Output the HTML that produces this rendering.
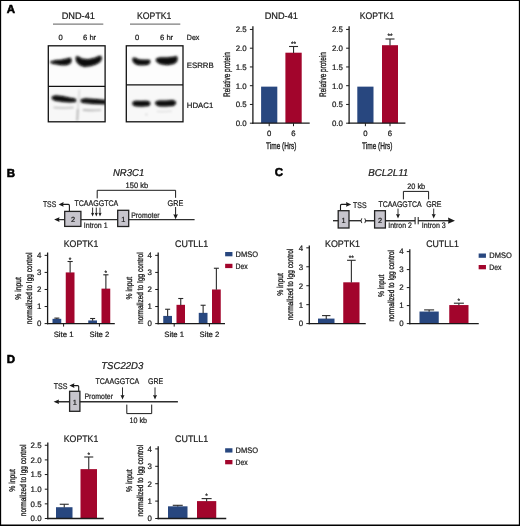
<!DOCTYPE html>
<html><head><meta charset="utf-8"><title>Figure</title>
<style>
html,body{margin:0;padding:0;background:#fff;}
body{width:520px;height:526px;overflow:hidden;font-family:"Liberation Sans",sans-serif;}
svg{display:block;will-change:transform;transform:translateZ(0);}
svg text{font-family:"Liberation Sans",sans-serif;fill:#1a1a1a;stroke:#1a1a1a;stroke-width:0.22px;text-rendering:geometricPrecision;}
</style></head><body>
<svg width="520" height="526" viewBox="0 0 520 526">
<defs>
<filter id="b1" x="-5%" y="-5%" width="110%" height="110%"><feGaussianBlur stdDeviation="0.3"/></filter>
<filter id="b2" x="-20%" y="-50%" width="140%" height="200%"><feGaussianBlur stdDeviation="0.85"/></filter>
<filter id="b3" x="-30%" y="-80%" width="160%" height="260%"><feGaussianBlur stdDeviation="1.7"/></filter>
<clipPath id="cb1"><rect x="48.3" y="45.8" width="56.8" height="76"/></clipPath>
<clipPath id="cb2"><rect x="126.3" y="45.8" width="56.7" height="76"/></clipPath>
</defs>
<rect x="0" y="0" width="520" height="526" fill="#fff"/>
<text x="6.7" y="12.8" font-size="11.5" font-weight="bold" style="fill:#000;stroke:#000;stroke-width:0.55px">A</text>
<text font-size="9.5" text-anchor="middle" transform="translate(78.3 18.9) scale(0.9705 1)">DND-41</text>
<line x1="53" y1="24.2" x2="103.3" y2="24.2" stroke="#7d7d7d" stroke-width="1.2" />
<text font-size="9.5" text-anchor="middle" transform="translate(154.2 19.1) scale(0.915 1)">KOPTK1</text>
<line x1="130" y1="24.2" x2="180.3" y2="24.2" stroke="#7d7d7d" stroke-width="1.2" />
<text x="60.6" y="40.2" font-size="7.6" text-anchor="middle">0</text>
<text x="89.6" y="40.2" font-size="7.6" text-anchor="middle">6 hr</text>
<text x="137" y="40.2" font-size="7.6" text-anchor="middle">0</text>
<text x="166.6" y="40.2" font-size="7.6" text-anchor="middle">6 hr</text>
<text font-size="7.6" transform="translate(186.8 40.3) scale(0.9323 1)">Dex</text>
<text x="186.8" y="67.6" font-size="7.8">ESRRB</text>
<text x="186.8" y="108.2" font-size="7.8">HDAC1</text>
<rect x="48.3" y="45.7" width="56.8" height="41" fill="#fcfcfc" />
<rect x="48.3" y="86.4" width="56.8" height="35.4" fill="#f7f7f7" />
<rect x="126.3" y="45.7" width="56.7" height="39.4" fill="#fdfdfd" />
<rect x="126.3" y="84.9" width="56.7" height="36.9" fill="#f8f8f8" />
<g clip-path="url(#cb1)">
<g filter="url(#b3)" opacity="0.5">
<polygon points="50.53,62.12 55.54,60.81 61.49,60.33 66.86,59.14 70.43,58.3 71.03,60.69 70.08,63.07 66.26,64.62 61.49,64.62 56.73,63.79 52.56,63.07" fill="#222" stroke="#222" stroke-width="1.2" stroke-linejoin="round"/>
<polygon points="76.51,56.87 78.18,57.11 81.76,59.14 87.72,59.97 94.87,58.42 99.64,56.4 101.07,56.87 101.07,58.9 99.87,61.4 96.06,63.79 90.1,65.57 84.14,66.17 79.97,64.62 77.23,62.0 76.27,58.9" fill="#222" stroke="#222" stroke-width="1.2" stroke-linejoin="round"/>
<polygon points="52.32,97.02 55.54,95.95 62.69,96.78 69.84,98.33 75.32,99.28 75.56,101.31 69.84,101.79 62.69,101.19 55.54,100.24 52.44,98.81" fill="#222" stroke="#222" stroke-width="1.2" stroke-linejoin="round"/>
<polygon points="81.04,100.0 85.33,98.92 93.68,99.52 105.59,100.59 105.59,103.69 93.68,103.33 85.33,102.62 81.4,101.79" fill="#222" stroke="#222" stroke-width="1.2" stroke-linejoin="round"/>
</g>
<g filter="url(#b2)" fill="none">
<path d="M53.6 107.5 C60 108 67 108 73.6 107.5" stroke="#bdbdbd" stroke-width="1.5" fill="none" />
<path d="M82.8 109.9 C90 110.6 95 110.6 101 110" stroke="#b8b8b8" stroke-width="1.6" fill="none" />
<path d="M79.4 89.5 C79 97 78.3 104 77.8 110" stroke="#d9d9d9" stroke-width="1.6" fill="none" />
<path d="M77.8 109 C77.6 114 77.4 118 77.2 120.8" stroke="#b0b0b0" stroke-width="1.7" fill="none" />
</g>
<g filter="url(#b2)">
<polygon points="50.53,62.12 55.54,60.81 61.49,60.33 66.86,59.14 70.43,58.3 71.03,60.69 70.08,63.07 66.26,64.62 61.49,64.62 56.73,63.79 52.56,63.07" fill="#0a0a0a" stroke="#0a0a0a" stroke-width="0.85" stroke-linejoin="round"/>
<polygon points="76.51,56.87 78.18,57.11 81.76,59.14 87.72,59.97 94.87,58.42 99.64,56.4 101.07,56.87 101.07,58.9 99.87,61.4 96.06,63.79 90.1,65.57 84.14,66.17 79.97,64.62 77.23,62.0 76.27,58.9" fill="#0a0a0a" stroke="#0a0a0a" stroke-width="0.85" stroke-linejoin="round"/>
<polygon points="52.32,97.02 55.54,95.95 62.69,96.78 69.84,98.33 75.32,99.28 75.56,101.31 69.84,101.79 62.69,101.19 55.54,100.24 52.44,98.81" fill="#0a0a0a" stroke="#0a0a0a" stroke-width="0.85" stroke-linejoin="round"/>
<polygon points="81.04,100.0 85.33,98.92 93.68,99.52 105.59,100.59 105.59,103.69 93.68,103.33 85.33,102.62 81.4,101.79" fill="#0a0a0a" stroke="#0a0a0a" stroke-width="0.85" stroke-linejoin="round"/>
</g>
</g>
<g clip-path="url(#cb2)">
<g filter="url(#b3)" opacity="0.5">
<polygon points="133.3,58.18 135.32,58.42 138.9,60.09 144.26,60.33 149.39,60.33 149.86,61.88 148.55,63.9 144.26,64.62 139.49,64.62 135.92,63.79 133.77,62.0 132.94,59.73" fill="#222" stroke="#222" stroke-width="1.2" stroke-linejoin="round"/>
<polygon points="156.66,59.02 159.76,58.06 168.1,58.06 173.46,57.35 176.56,56.75 177.04,58.9 176.32,61.4 173.46,63.43 167.5,64.38 160.95,63.67 157.61,62.0 156.3,60.21" fill="#222" stroke="#222" stroke-width="1.2" stroke-linejoin="round"/>
<polygon points="132.94,102.5 135.32,101.43 140.69,101.55 146.65,101.43 149.39,102.26 149.86,103.93 148.43,105.48 141.88,105.96 135.92,105.72 133.18,104.65" fill="#222" stroke="#222" stroke-width="1.2" stroke-linejoin="round"/>
<polygon points="155.82,102.26 158.56,101.19 165.72,101.19 172.87,100.71 175.13,101.67 175.37,103.45 173.58,105.24 165.72,105.84 159.16,105.72 156.06,104.17" fill="#222" stroke="#222" stroke-width="1.2" stroke-linejoin="round"/>
</g>
<g filter="url(#b2)" fill="none">
<path d="M156.8 111.3 C162 111.7 167 111.7 171.8 111.2" stroke="#dcdcdc" stroke-width="1.2" fill="none" />
<circle cx="146.4" cy="114.5" r="0.9" fill="#cccccc"/>
</g>
<g filter="url(#b2)">
<polygon points="133.3,58.18 135.32,58.42 138.9,60.09 144.26,60.33 149.39,60.33 149.86,61.88 148.55,63.9 144.26,64.62 139.49,64.62 135.92,63.79 133.77,62.0 132.94,59.73" fill="#0a0a0a" stroke="#0a0a0a" stroke-width="0.85" stroke-linejoin="round"/>
<polygon points="156.66,59.02 159.76,58.06 168.1,58.06 173.46,57.35 176.56,56.75 177.04,58.9 176.32,61.4 173.46,63.43 167.5,64.38 160.95,63.67 157.61,62.0 156.3,60.21" fill="#0a0a0a" stroke="#0a0a0a" stroke-width="0.85" stroke-linejoin="round"/>
<polygon points="132.94,102.5 135.32,101.43 140.69,101.55 146.65,101.43 149.39,102.26 149.86,103.93 148.43,105.48 141.88,105.96 135.92,105.72 133.18,104.65" fill="#0a0a0a" stroke="#0a0a0a" stroke-width="0.85" stroke-linejoin="round"/>
<polygon points="155.82,102.26 158.56,101.19 165.72,101.19 172.87,100.71 175.13,101.67 175.37,103.45 173.58,105.24 165.72,105.84 159.16,105.72 156.06,104.17" fill="#0a0a0a" stroke="#0a0a0a" stroke-width="0.85" stroke-linejoin="round"/>
</g>
</g>
<rect x="48.3" y="45.8" width="56.8" height="76" fill="none" stroke="#111" stroke-width="1.3" />
<line x1="48.3" y1="86.4" x2="105.1" y2="86.4" stroke="#111" stroke-width="1.3" />
<rect x="126.3" y="45.8" width="56.7" height="76" fill="none" stroke="#111" stroke-width="1.3" />
<line x1="126.3" y1="84.9" x2="183" y2="84.9" stroke="#111" stroke-width="1.3" />
<text font-size="9.5" text-anchor="middle" transform="translate(281.3 18.9) scale(0.9705 1)">DND-41</text>
<rect x="261.1" y="86.64" width="16.2" height="36.56" fill="#28477f" />
<rect x="285.4" y="52.7" width="16.3" height="70.5" fill="#a2052c" />
<line x1="293.54999999999995" y1="53.0" x2="293.54999999999995" y2="46.5" stroke="#2a2a2a" stroke-width="1.1" />
<line x1="289.05" y1="46.5" x2="298.05" y2="46.5" stroke="#2a2a2a" stroke-width="1.1" />
<text x="293.55" y="45.6" font-size="6.6" text-anchor="middle">**</text>
<line x1="252.9" y1="26.3" x2="252.9" y2="123.85000000000001" stroke="#1a1a1a" stroke-width="1.3" />
<line x1="252.25" y1="123.2" x2="309.7" y2="123.2" stroke="#1a1a1a" stroke-width="1.3" />
<line x1="249.9" y1="123.2" x2="252.9" y2="123.2" stroke="#1a1a1a" stroke-width="1" />
<text x="246.70000000000002" y="126.04" font-size="7.9" text-anchor="end">0.0</text>
<line x1="249.9" y1="104.45" x2="252.9" y2="104.45" stroke="#1a1a1a" stroke-width="1" />
<text x="246.70000000000002" y="107.29" font-size="7.9" text-anchor="end">0.5</text>
<line x1="249.9" y1="85.7" x2="252.9" y2="85.7" stroke="#1a1a1a" stroke-width="1" />
<text x="246.70000000000002" y="88.54" font-size="7.9" text-anchor="end">1.0</text>
<line x1="249.9" y1="66.95" x2="252.9" y2="66.95" stroke="#1a1a1a" stroke-width="1" />
<text x="246.70000000000002" y="69.79" font-size="7.9" text-anchor="end">1.5</text>
<line x1="249.9" y1="48.2" x2="252.9" y2="48.2" stroke="#1a1a1a" stroke-width="1" />
<text x="246.70000000000002" y="51.04" font-size="7.9" text-anchor="end">2.0</text>
<line x1="249.9" y1="29.45" x2="252.9" y2="29.45" stroke="#1a1a1a" stroke-width="1" />
<text x="246.70000000000002" y="32.29" font-size="7.9" text-anchor="end">2.5</text>
<line x1="269.2" y1="123.2" x2="269.2" y2="126.2" stroke="#1a1a1a" stroke-width="1" />
<text x="269.2" y="136.4" font-size="7.75" text-anchor="middle">0</text>
<line x1="293.5" y1="123.2" x2="293.5" y2="126.2" stroke="#1a1a1a" stroke-width="1" />
<text x="293.5" y="136.4" font-size="7.75" text-anchor="middle">6</text>
<text font-size="9.5" text-anchor="middle" style="stroke-width:0.32px" transform="translate(281.3 149.2) scale(0.6832 1)">Time (Hrs)</text>
<text font-size="9.5" text-anchor="middle" style="stroke-width:0.32px" transform="translate(230.4 74.6) rotate(-90) scale(0.6757 1)">Relative protein</text>
<text font-size="9.5" text-anchor="middle" transform="translate(376.9 18.9) scale(0.9124 1)">KOPTK1</text>
<rect x="357.3" y="86.64" width="16.2" height="36.56" fill="#28477f" />
<rect x="382" y="45.2" width="16" height="78.0" fill="#a2052c" />
<line x1="390.0" y1="45.5" x2="390.0" y2="39" stroke="#2a2a2a" stroke-width="1.1" />
<line x1="385.5" y1="39" x2="394.5" y2="39" stroke="#2a2a2a" stroke-width="1.1" />
<text x="390.0" y="38.4" font-size="6.6" text-anchor="middle">**</text>
<line x1="349.1" y1="26.3" x2="349.1" y2="123.85000000000001" stroke="#1a1a1a" stroke-width="1.3" />
<line x1="348.45000000000005" y1="123.2" x2="405.4" y2="123.2" stroke="#1a1a1a" stroke-width="1.3" />
<line x1="346.1" y1="123.2" x2="349.1" y2="123.2" stroke="#1a1a1a" stroke-width="1" />
<text x="342.90000000000003" y="126.04" font-size="7.9" text-anchor="end">0.0</text>
<line x1="346.1" y1="104.45" x2="349.1" y2="104.45" stroke="#1a1a1a" stroke-width="1" />
<text x="342.90000000000003" y="107.29" font-size="7.9" text-anchor="end">0.5</text>
<line x1="346.1" y1="85.7" x2="349.1" y2="85.7" stroke="#1a1a1a" stroke-width="1" />
<text x="342.90000000000003" y="88.54" font-size="7.9" text-anchor="end">1.0</text>
<line x1="346.1" y1="66.95" x2="349.1" y2="66.95" stroke="#1a1a1a" stroke-width="1" />
<text x="342.90000000000003" y="69.79" font-size="7.9" text-anchor="end">1.5</text>
<line x1="346.1" y1="48.2" x2="349.1" y2="48.2" stroke="#1a1a1a" stroke-width="1" />
<text x="342.90000000000003" y="51.04" font-size="7.9" text-anchor="end">2.0</text>
<line x1="346.1" y1="29.45" x2="349.1" y2="29.45" stroke="#1a1a1a" stroke-width="1" />
<text x="342.90000000000003" y="32.29" font-size="7.9" text-anchor="end">2.5</text>
<line x1="365.4" y1="123.2" x2="365.4" y2="126.2" stroke="#1a1a1a" stroke-width="1" />
<text x="365.4" y="136.4" font-size="7.75" text-anchor="middle">0</text>
<line x1="390" y1="123.2" x2="390" y2="126.2" stroke="#1a1a1a" stroke-width="1" />
<text x="390" y="136.4" font-size="7.75" text-anchor="middle">6</text>
<text font-size="9.5" text-anchor="middle" style="stroke-width:0.32px" transform="translate(377.3 149.2) scale(0.6832 1)">Time (Hrs)</text>
<text font-size="9.5" text-anchor="middle" style="stroke-width:0.32px" transform="translate(326.4 74.6) rotate(-90) scale(0.6757 1)">Relative protein</text>
<text x="6.7" y="176.6" font-size="11.5" font-weight="bold" style="fill:#000;stroke:#000;stroke-width:0.55px">B</text>
<text font-size="10" text-anchor="middle" font-style="italic" transform="translate(128.6 176.4) scale(0.9516 1)">NR3C1</text>
<text font-size="7.9" text-anchor="middle" transform="translate(136.8 187.7) scale(0.9486 1)">150 kb</text>
<path d="M97.2 198.4 V190.3 H175.6 V197.8" stroke="#1a1a1a" stroke-width="1.0" fill="none" />
<text font-size="8.2" transform="translate(74.5 205.8) scale(0.8574 1)">TCAAGGTCA</text>
<text font-size="8.2" transform="translate(167.5 205.8) scale(0.8864 1)">GRE</text>
<text font-size="8.2" transform="translate(42.9 207.1) scale(0.834 1)">TSS</text>
<line x1="58" y1="219.6" x2="194.6" y2="219.6" stroke="#2e2e2e" stroke-width="1.4" />
<polygon points="54.1,219.6 59.5,217.29999999999998 59.0,219.6 59.5,221.9" fill="#1a1a1a"/>
<path d="M69.4 211.5 V205.4 Q69.4 204.4 68.4 204.4 H62" stroke="#1a1a1a" stroke-width="1.1" fill="none" />
<polygon points="58.6,204.4 63.6,202.1 63.1,204.4 63.6,206.70000000000002" fill="#1a1a1a"/>
<rect x="64.7" y="211.4" width="16.2" height="15" fill="#c7c5cd" stroke="#222" stroke-width="1.3" />
<text x="73.1" y="221.8" font-size="7.4" text-anchor="middle">2</text>
<rect x="117.7" y="210.3" width="11" height="16.2" fill="#c7c5cd" stroke="#222" stroke-width="1.3" />
<text x="123.2" y="221.8" font-size="7.4" text-anchor="middle">1</text>
<line x1="92.6" y1="207.6" x2="92.6" y2="214" stroke="#1a1a1a" stroke-width="0.9" />
<polygon points="92.6,216.5 91.0,212.7 92.6,213.2 94.19999999999999,212.7" fill="#1a1a1a"/>
<line x1="96.3" y1="207.6" x2="96.3" y2="214" stroke="#1a1a1a" stroke-width="0.9" />
<polygon points="96.3,216.5 94.7,212.7 96.3,213.2 97.89999999999999,212.7" fill="#1a1a1a"/>
<line x1="100" y1="207.6" x2="100" y2="214" stroke="#1a1a1a" stroke-width="0.9" />
<polygon points="100,216.5 98.4,212.7 100,213.2 101.6,212.7" fill="#1a1a1a"/>
<text font-size="8" transform="translate(83.8 227.6) scale(0.8754 1)">Intron 1</text>
<text font-size="8" transform="translate(131.2 217.6) scale(0.8602 1)">Promoter</text>
<line x1="175.6" y1="207" x2="175.6" y2="216" stroke="#1a1a1a" stroke-width="1.0" />
<polygon points="175.6,219.3 173.29999999999998,214.3 175.6,214.8 177.9,214.3" fill="#1a1a1a"/>
<text font-size="9.5" text-anchor="middle" transform="translate(81 246.8) scale(0.9204 1)">KOPTK1</text>
<rect x="52.5" y="318.82" width="8.75" height="4.78" fill="#28477f" />
<line x1="56.875" y1="319.12320000000005" x2="56.875" y2="318.1" stroke="#2a2a2a" stroke-width="1.1" />
<line x1="54.38" y1="318.1" x2="59.38" y2="318.1" stroke="#2a2a2a" stroke-width="1.1" />
<rect x="65.75" y="272.42" width="8.75" height="51.18" fill="#a2052c" />
<line x1="70.125" y1="272.72" x2="70.125" y2="261.5" stroke="#2a2a2a" stroke-width="1.1" />
<line x1="67.53" y1="261.5" x2="72.72" y2="261.5" stroke="#2a2a2a" stroke-width="1.1" />
<text x="70.12" y="261.6" font-size="6.6" text-anchor="middle">*</text>
<rect x="88.25" y="320.44" width="8.75" height="3.16" fill="#28477f" />
<line x1="92.625" y1="320.74390000000005" x2="92.625" y2="318.5" stroke="#2a2a2a" stroke-width="1.1" />
<line x1="90.12" y1="318.5" x2="95.12" y2="318.5" stroke="#2a2a2a" stroke-width="1.1" />
<rect x="101.5" y="288.63" width="8.75" height="34.97" fill="#a2052c" />
<line x1="105.875" y1="288.927" x2="105.875" y2="274.8" stroke="#2a2a2a" stroke-width="1.1" />
<line x1="103.28" y1="274.8" x2="108.47" y2="274.8" stroke="#2a2a2a" stroke-width="1.1" />
<text x="105.88" y="275" font-size="6.6" text-anchor="middle">*</text>
<line x1="47.6" y1="252.5" x2="47.6" y2="324.25" stroke="#1a1a1a" stroke-width="1.3" />
<line x1="46.95" y1="323.6" x2="114.8" y2="323.6" stroke="#1a1a1a" stroke-width="1.3" />
<line x1="44.6" y1="323.6" x2="47.6" y2="323.6" stroke="#1a1a1a" stroke-width="1" />
<text x="41.4" y="326.44" font-size="7.9" text-anchor="end">0</text>
<line x1="44.6" y1="306.54" x2="47.6" y2="306.54" stroke="#1a1a1a" stroke-width="1" />
<text x="41.4" y="309.38" font-size="7.9" text-anchor="end">1</text>
<line x1="44.6" y1="289.48" x2="47.6" y2="289.48" stroke="#1a1a1a" stroke-width="1" />
<text x="41.4" y="292.32" font-size="7.9" text-anchor="end">2</text>
<line x1="44.6" y1="272.42" x2="47.6" y2="272.42" stroke="#1a1a1a" stroke-width="1" />
<text x="41.4" y="275.26" font-size="7.9" text-anchor="end">3</text>
<line x1="44.6" y1="255.36" x2="47.6" y2="255.36" stroke="#1a1a1a" stroke-width="1" />
<text x="41.4" y="258.2" font-size="7.9" text-anchor="end">4</text>
<line x1="63.6" y1="323.6" x2="63.6" y2="326.6" stroke="#1a1a1a" stroke-width="1" />
<text x="63.6" y="336.5" font-size="7.75" text-anchor="middle">Site 1</text>
<line x1="99.4" y1="323.6" x2="99.4" y2="326.6" stroke="#1a1a1a" stroke-width="1" />
<text x="99.4" y="336.5" font-size="7.75" text-anchor="middle">Site 2</text>
<text font-size="8.5" text-anchor="middle" style="stroke-width:0.32px" transform="translate(21.4 288.4) rotate(-90) scale(0.7971 1)">% input</text>
<text font-size="8.5" text-anchor="middle" style="stroke-width:0.32px" transform="translate(31.7 288.4) rotate(-90) scale(0.7693 1)">normalized to Igg control</text>
<text font-size="9.5" text-anchor="middle" transform="translate(191.6 246.8) scale(0.9385 1)">CUTLL1</text>
<rect x="163.25" y="315.92" width="8.75" height="7.68" fill="#28477f" />
<line x1="167.625" y1="316.223" x2="167.625" y2="309.25" stroke="#2a2a2a" stroke-width="1.1" />
<line x1="165.12" y1="309.25" x2="170.12" y2="309.25" stroke="#2a2a2a" stroke-width="1.1" />
<rect x="176.5" y="304.83" width="8.5" height="18.77" fill="#a2052c" />
<line x1="180.75" y1="305.134" x2="180.75" y2="298.5" stroke="#2a2a2a" stroke-width="1.1" />
<line x1="178.25" y1="298.5" x2="183.25" y2="298.5" stroke="#2a2a2a" stroke-width="1.1" />
<rect x="198.75" y="312.85" width="8.75" height="10.75" fill="#28477f" />
<line x1="203.125" y1="313.15220000000005" x2="203.125" y2="305.25" stroke="#2a2a2a" stroke-width="1.1" />
<line x1="200.62" y1="305.25" x2="205.62" y2="305.25" stroke="#2a2a2a" stroke-width="1.1" />
<rect x="212" y="289.48" width="8.75" height="34.12" fill="#a2052c" />
<line x1="216.375" y1="289.78000000000003" x2="216.375" y2="268.25" stroke="#2a2a2a" stroke-width="1.1" />
<line x1="213.88" y1="268.25" x2="218.88" y2="268.25" stroke="#2a2a2a" stroke-width="1.1" />
<line x1="158.2" y1="252.5" x2="158.2" y2="324.25" stroke="#1a1a1a" stroke-width="1.3" />
<line x1="157.54999999999998" y1="323.6" x2="225" y2="323.6" stroke="#1a1a1a" stroke-width="1.3" />
<line x1="155.2" y1="323.6" x2="158.2" y2="323.6" stroke="#1a1a1a" stroke-width="1" />
<text x="152.0" y="326.44" font-size="7.9" text-anchor="end">0</text>
<line x1="155.2" y1="306.54" x2="158.2" y2="306.54" stroke="#1a1a1a" stroke-width="1" />
<text x="152.0" y="309.38" font-size="7.9" text-anchor="end">1</text>
<line x1="155.2" y1="289.48" x2="158.2" y2="289.48" stroke="#1a1a1a" stroke-width="1" />
<text x="152.0" y="292.32" font-size="7.9" text-anchor="end">2</text>
<line x1="155.2" y1="272.42" x2="158.2" y2="272.42" stroke="#1a1a1a" stroke-width="1" />
<text x="152.0" y="275.26" font-size="7.9" text-anchor="end">3</text>
<line x1="155.2" y1="255.36" x2="158.2" y2="255.36" stroke="#1a1a1a" stroke-width="1" />
<text x="152.0" y="258.2" font-size="7.9" text-anchor="end">4</text>
<line x1="174.2" y1="323.6" x2="174.2" y2="326.6" stroke="#1a1a1a" stroke-width="1" />
<text x="174.2" y="336.5" font-size="7.75" text-anchor="middle">Site 1</text>
<line x1="209.4" y1="323.6" x2="209.4" y2="326.6" stroke="#1a1a1a" stroke-width="1" />
<text x="209.4" y="336.5" font-size="7.75" text-anchor="middle">Site 2</text>
<text font-size="8.5" text-anchor="middle" style="stroke-width:0.32px" transform="translate(132.3 288.2) rotate(-90) scale(0.7971 1)">% input</text>
<text font-size="8.5" text-anchor="middle" style="stroke-width:0.32px" transform="translate(142.7 288.2) rotate(-90) scale(0.7693 1)">normalized to Igg control</text>
<rect x="225.15" y="252.0" width="7.3" height="4.3" fill="#28477f" />
<text font-size="8" transform="translate(235.5 256.9) scale(0.9375 1)">DMSO</text>
<rect x="225.15" y="263.8" width="7.3" height="4.3" fill="#a2052c" />
<text font-size="8" transform="translate(235.5 268.7) scale(0.8575 1)">Dex</text>
<text x="274.8" y="176.4" font-size="11.5" font-weight="bold" style="fill:#000;stroke:#000;stroke-width:0.55px">C</text>
<text font-size="10" text-anchor="middle" font-style="italic" transform="translate(388.3 176.4) scale(0.9766 1)">BCL2L11</text>
<text font-size="7.9" text-anchor="middle" transform="translate(416.2 189.2) scale(0.9314 1)">20 kb</text>
<path d="M403.4 199.4 V191.4 H428.6 V199.4" stroke="#1a1a1a" stroke-width="1.0" fill="none" />
<text font-size="8.2" transform="translate(378.4 207) scale(0.8476 1)">TCAAGGTCA</text>
<text font-size="8.2" transform="translate(426.2 207) scale(0.8554 1)">GRE</text>
<text font-size="8.2" transform="translate(353.1 207.5) scale(0.8528 1)">TSS</text>
<line x1="333" y1="220.7" x2="361.2" y2="220.7" stroke="#2e2e2e" stroke-width="1.4" />
<line x1="365.3" y1="220.7" x2="415.1" y2="220.7" stroke="#2e2e2e" stroke-width="1.4" />
<line x1="418.2" y1="220.7" x2="449" y2="220.7" stroke="#2e2e2e" stroke-width="1.4" />
<path d="M361.8 218.3 Q360.2 220.7 361.8 223.1" stroke="#1a1a1a" stroke-width="0.9" fill="none" />
<path d="M364.8 218.3 Q366.4 220.7 364.8 223.1" stroke="#1a1a1a" stroke-width="0.9" fill="none" />
<line x1="415.1" y1="217" x2="415.1" y2="224.3" stroke="#1a1a1a" stroke-width="1" />
<line x1="418.2" y1="217" x2="418.2" y2="224.3" stroke="#1a1a1a" stroke-width="1" />
<polygon points="455,220.7 448,217.6 448.5,220.7 448,223.79999999999998" fill="#1a1a1a"/>
<path d="M340.5 210.7 V205.4 Q340.5 204.4 341.5 204.4 H347" stroke="#1a1a1a" stroke-width="1.1" fill="none" />
<polygon points="351.2,204.4 346.0,202.1 346.5,204.4 346.0,206.70000000000002" fill="#1a1a1a"/>
<rect x="338.2" y="210.7" width="10.8" height="17.3" fill="#c7c5cd" stroke="#222" stroke-width="1.3" />
<text x="343.5" y="223.2" font-size="7.4" text-anchor="middle">1</text>
<rect x="374.6" y="210.7" width="10.8" height="17.3" fill="#c7c5cd" stroke="#222" stroke-width="1.3" />
<text x="380" y="223.2" font-size="7.4" text-anchor="middle">2</text>
<line x1="398" y1="208.6" x2="398" y2="215.6" stroke="#1a1a1a" stroke-width="0.9" />
<polygon points="398,218.6 396.0,214.0 398,214.5 400.0,214.0" fill="#1a1a1a"/>
<line x1="433.7" y1="208.6" x2="433.7" y2="215.6" stroke="#1a1a1a" stroke-width="0.9" />
<polygon points="433.7,218.6 431.7,214.0 433.7,214.5 435.7,214.0" fill="#1a1a1a"/>
<text font-size="8" transform="translate(388.3 227.7) scale(0.8662 1)">Intron 2</text>
<text font-size="8" transform="translate(421.8 227.7) scale(0.8847 1)">Intron 3</text>
<text font-size="9.5" text-anchor="middle" transform="translate(342.5 246.8) scale(0.9337 1)">KOPTK1</text>
<rect x="318" y="318.58" width="16.5" height="5.02" fill="#28477f" />
<line x1="326.25" y1="318.88090000000005" x2="326.25" y2="315.6" stroke="#2a2a2a" stroke-width="1.1" />
<line x1="322.05" y1="315.6" x2="330.45" y2="315.6" stroke="#2a2a2a" stroke-width="1.1" />
<rect x="343.25" y="282.31" width="16.25" height="41.29" fill="#a2052c" />
<line x1="351.375" y1="282.61080000000004" x2="351.375" y2="260.3" stroke="#2a2a2a" stroke-width="1.1" />
<line x1="347.07" y1="260.3" x2="355.68" y2="260.3" stroke="#2a2a2a" stroke-width="1.1" />
<text x="351.38" y="260" font-size="6.6" text-anchor="middle">**</text>
<line x1="309.3" y1="245.5" x2="309.3" y2="324.25" stroke="#1a1a1a" stroke-width="1.3" />
<line x1="308.65000000000003" y1="323.6" x2="365.75" y2="323.6" stroke="#1a1a1a" stroke-width="1.3" />
<line x1="306.3" y1="323.6" x2="309.3" y2="323.6" stroke="#1a1a1a" stroke-width="1" />
<text x="303.1" y="326.44" font-size="7.9" text-anchor="end">0</text>
<line x1="306.3" y1="304.66" x2="309.3" y2="304.66" stroke="#1a1a1a" stroke-width="1" />
<text x="303.1" y="307.5" font-size="7.9" text-anchor="end">1</text>
<line x1="306.3" y1="285.72" x2="309.3" y2="285.72" stroke="#1a1a1a" stroke-width="1" />
<text x="303.1" y="288.56" font-size="7.9" text-anchor="end">2</text>
<line x1="306.3" y1="266.78" x2="309.3" y2="266.78" stroke="#1a1a1a" stroke-width="1" />
<text x="303.1" y="269.62" font-size="7.9" text-anchor="end">3</text>
<line x1="306.3" y1="247.84" x2="309.3" y2="247.84" stroke="#1a1a1a" stroke-width="1" />
<text x="303.1" y="250.68" font-size="7.9" text-anchor="end">4</text>
<text font-size="8.5" text-anchor="middle" style="stroke-width:0.32px" transform="translate(282.9 284.5) rotate(-90) scale(0.7971 1)">% input</text>
<text font-size="8.5" text-anchor="middle" style="stroke-width:0.32px" transform="translate(293.2 284.5) rotate(-90) scale(0.7693 1)">normalized to Igg control</text>
<text font-size="9.5" text-anchor="middle" transform="translate(442.5 246.8) scale(0.9216 1)">CUTLL1</text>
<rect x="419.5" y="311.54" width="19.25" height="12.06" fill="#28477f" />
<line x1="429.125" y1="311.84000000000003" x2="429.125" y2="309.9" stroke="#2a2a2a" stroke-width="1.1" />
<line x1="424.12" y1="309.9" x2="434.12" y2="309.9" stroke="#2a2a2a" stroke-width="1.1" />
<rect x="449.25" y="305.06" width="19.25" height="18.54" fill="#a2052c" />
<line x1="458.875" y1="305.36" x2="458.875" y2="303.2" stroke="#2a2a2a" stroke-width="1.1" />
<line x1="453.88" y1="303.2" x2="463.88" y2="303.2" stroke="#2a2a2a" stroke-width="1.1" />
<text x="458.88" y="302.5" font-size="6.6" text-anchor="middle">*</text>
<line x1="409.8" y1="249.25" x2="409.8" y2="324.25" stroke="#1a1a1a" stroke-width="1.3" />
<line x1="409.15000000000003" y1="323.6" x2="478.75" y2="323.6" stroke="#1a1a1a" stroke-width="1.3" />
<line x1="406.8" y1="323.6" x2="409.8" y2="323.6" stroke="#1a1a1a" stroke-width="1" />
<text x="403.6" y="326.44" font-size="7.9" text-anchor="end">0</text>
<line x1="406.8" y1="305.6" x2="409.8" y2="305.6" stroke="#1a1a1a" stroke-width="1" />
<text x="403.6" y="308.44" font-size="7.9" text-anchor="end">1</text>
<line x1="406.8" y1="287.6" x2="409.8" y2="287.6" stroke="#1a1a1a" stroke-width="1" />
<text x="403.6" y="290.44" font-size="7.9" text-anchor="end">2</text>
<line x1="406.8" y1="269.6" x2="409.8" y2="269.6" stroke="#1a1a1a" stroke-width="1" />
<text x="403.6" y="272.44" font-size="7.9" text-anchor="end">3</text>
<line x1="406.8" y1="251.6" x2="409.8" y2="251.6" stroke="#1a1a1a" stroke-width="1" />
<text x="403.6" y="254.44" font-size="7.9" text-anchor="end">4</text>
<text font-size="8.5" text-anchor="middle" style="stroke-width:0.32px" transform="translate(383.9 285.8) rotate(-90) scale(0.7971 1)">% input</text>
<text font-size="8.5" text-anchor="middle" style="stroke-width:0.32px" transform="translate(394.2 285.8) rotate(-90) scale(0.7693 1)">normalized to Igg control</text>
<rect x="478.65" y="253.5" width="7.3" height="4.3" fill="#28477f" />
<text font-size="8" transform="translate(489.25 258.4) scale(0.9375 1)">DMSO</text>
<rect x="478.65" y="265.0" width="7.3" height="4.3" fill="#a2052c" />
<text font-size="8" transform="translate(489.25 269.9) scale(0.8575 1)">Dex</text>
<text x="6.7" y="363.4" font-size="11.5" font-weight="bold" style="fill:#000;stroke:#000;stroke-width:0.55px">D</text>
<text font-size="10" text-anchor="middle" font-style="italic" transform="translate(122.25 368.9) scale(0.9566 1)">TSC22D3</text>
<text font-size="8.2" transform="translate(95.5 384.4) scale(0.8574 1)">TCAAGGTCA</text>
<text font-size="8.2" transform="translate(148 384.4) scale(0.8582 1)">GRE</text>
<text font-size="8.2" transform="translate(53.8 388.8) scale(0.8622 1)">TSS</text>
<line x1="58" y1="401.8" x2="177.9" y2="401.8" stroke="#2e2e2e" stroke-width="1.4" />
<polygon points="53.6,401.8 59.0,399.5 58.5,401.8 59.0,404.1" fill="#1a1a1a"/>
<path d="M78.7 391.3 V386.6 Q78.7 385.6 77.7 385.6 H73" stroke="#1a1a1a" stroke-width="1.1" fill="none" />
<polygon points="69.4,385.6 74.4,383.3 73.9,385.6 74.4,387.90000000000003" fill="#1a1a1a"/>
<rect x="69.6" y="391.3" width="10.3" height="20" fill="#c7c5cd" stroke="#222" stroke-width="1.3" />
<text x="74.7" y="404.6" font-size="7.4" text-anchor="middle">1</text>
<text font-size="8" transform="translate(84.5 399.4) scale(0.8663 1)">Promoter</text>
<line x1="122.5" y1="387.4" x2="122.5" y2="397" stroke="#1a1a1a" stroke-width="0.9" />
<polygon points="122.5,399.6 120.5,395.0 122.5,395.5 124.5,395.0" fill="#1a1a1a"/>
<line x1="155" y1="387.4" x2="155" y2="397" stroke="#1a1a1a" stroke-width="0.9" />
<polygon points="155,399.6 153.0,395.0 155,395.5 157.0,395.0" fill="#1a1a1a"/>
<path d="M126.8 404.6 V413.6 H151.7 V404.6" stroke="#1a1a1a" stroke-width="1.0" fill="none" />
<text font-size="7.9" text-anchor="middle" transform="translate(138.3 422.6) scale(0.9055 1)">10 kb</text>
<text font-size="9.5" text-anchor="middle" transform="translate(81 441.8) scale(0.9204 1)">KOPTK1</text>
<rect x="56" y="507.22" width="16.5" height="11.28" fill="#28477f" />
<line x1="64.25" y1="507.5195" x2="64.25" y2="504.25" stroke="#2a2a2a" stroke-width="1.1" />
<line x1="59.75" y1="504.25" x2="68.75" y2="504.25" stroke="#2a2a2a" stroke-width="1.1" />
<rect x="80.5" y="469.13" width="16.5" height="49.37" fill="#a2052c" />
<line x1="88.75" y1="469.4295" x2="88.75" y2="457" stroke="#2a2a2a" stroke-width="1.1" />
<line x1="84.25" y1="457" x2="93.25" y2="457" stroke="#2a2a2a" stroke-width="1.1" />
<text x="88.75" y="456.8" font-size="6.6" text-anchor="middle">*</text>
<line x1="47.8" y1="442.5" x2="47.8" y2="519.15" stroke="#1a1a1a" stroke-width="1.3" />
<line x1="47.15" y1="518.5" x2="103.75" y2="518.5" stroke="#1a1a1a" stroke-width="1.3" />
<line x1="44.8" y1="518.5" x2="47.8" y2="518.5" stroke="#1a1a1a" stroke-width="1" />
<text x="41.599999999999994" y="521.34" font-size="7.9" text-anchor="end">0.0</text>
<line x1="44.8" y1="503.85" x2="47.8" y2="503.85" stroke="#1a1a1a" stroke-width="1" />
<text x="41.599999999999994" y="506.69" font-size="7.9" text-anchor="end">0.5</text>
<line x1="44.8" y1="489.2" x2="47.8" y2="489.2" stroke="#1a1a1a" stroke-width="1" />
<text x="41.599999999999994" y="492.04" font-size="7.9" text-anchor="end">1.0</text>
<line x1="44.8" y1="474.55" x2="47.8" y2="474.55" stroke="#1a1a1a" stroke-width="1" />
<text x="41.599999999999994" y="477.39" font-size="7.9" text-anchor="end">1.5</text>
<line x1="44.8" y1="459.9" x2="47.8" y2="459.9" stroke="#1a1a1a" stroke-width="1" />
<text x="41.599999999999994" y="462.74" font-size="7.9" text-anchor="end">2.0</text>
<line x1="44.8" y1="445.25" x2="47.8" y2="445.25" stroke="#1a1a1a" stroke-width="1" />
<text x="41.599999999999994" y="448.09" font-size="7.9" text-anchor="end">2.5</text>
<text font-size="8.5" text-anchor="middle" style="stroke-width:0.32px" transform="translate(14.8 480.4) rotate(-90) scale(0.7971 1)">% input</text>
<text font-size="8.5" text-anchor="middle" style="stroke-width:0.32px" transform="translate(25.5 480.4) rotate(-90) scale(0.7693 1)">normalized to Igg control</text>
<text font-size="9.5" text-anchor="middle" transform="translate(191.6 441.8) scale(0.9385 1)">CUTLL1</text>
<rect x="168" y="506.32" width="19.5" height="12.18" fill="#28477f" />
<line x1="177.75" y1="506.62" x2="177.75" y2="505.3" stroke="#2a2a2a" stroke-width="1.1" />
<line x1="172.75" y1="505.3" x2="182.75" y2="505.3" stroke="#2a2a2a" stroke-width="1.1" />
<rect x="197" y="501.1" width="19.25" height="17.4" fill="#a2052c" />
<line x1="206.625" y1="501.40000000000003" x2="206.625" y2="498.6" stroke="#2a2a2a" stroke-width="1.1" />
<line x1="201.62" y1="498.6" x2="211.62" y2="498.6" stroke="#2a2a2a" stroke-width="1.1" />
<text x="206.62" y="497.8" font-size="6.6" text-anchor="middle">*</text>
<line x1="158.2" y1="446.25" x2="158.2" y2="519.15" stroke="#1a1a1a" stroke-width="1.3" />
<line x1="157.54999999999998" y1="518.5" x2="226.25" y2="518.5" stroke="#1a1a1a" stroke-width="1.3" />
<line x1="155.2" y1="518.5" x2="158.2" y2="518.5" stroke="#1a1a1a" stroke-width="1" />
<text x="152.0" y="521.34" font-size="7.9" text-anchor="end">0</text>
<line x1="155.2" y1="501.1" x2="158.2" y2="501.1" stroke="#1a1a1a" stroke-width="1" />
<text x="152.0" y="503.94" font-size="7.9" text-anchor="end">1</text>
<line x1="155.2" y1="483.7" x2="158.2" y2="483.7" stroke="#1a1a1a" stroke-width="1" />
<text x="152.0" y="486.54" font-size="7.9" text-anchor="end">2</text>
<line x1="155.2" y1="466.3" x2="158.2" y2="466.3" stroke="#1a1a1a" stroke-width="1" />
<text x="152.0" y="469.14" font-size="7.9" text-anchor="end">3</text>
<line x1="155.2" y1="448.9" x2="158.2" y2="448.9" stroke="#1a1a1a" stroke-width="1" />
<text x="152.0" y="451.74" font-size="7.9" text-anchor="end">4</text>
<text font-size="8.5" text-anchor="middle" style="stroke-width:0.32px" transform="translate(132.3 480.7) rotate(-90) scale(0.7971 1)">% input</text>
<text font-size="8.5" text-anchor="middle" style="stroke-width:0.32px" transform="translate(142.7 480.7) rotate(-90) scale(0.7693 1)">normalized to Igg control</text>
<rect x="225.15" y="448.25" width="7.3" height="4.3" fill="#28477f" />
<text font-size="8" transform="translate(235.5 453.15) scale(0.9375 1)">DMSO</text>
<rect x="225.15" y="460.0" width="7.3" height="4.3" fill="#a2052c" />
<text font-size="8" transform="translate(235.5 464.9) scale(0.8575 1)">Dex</text>
<path d="M0 0H520V526H0Z M1.15 0.95V524.5H518.85V0.95Z" fill="#000" fill-rule="evenodd"/>
</svg>
</body></html>
